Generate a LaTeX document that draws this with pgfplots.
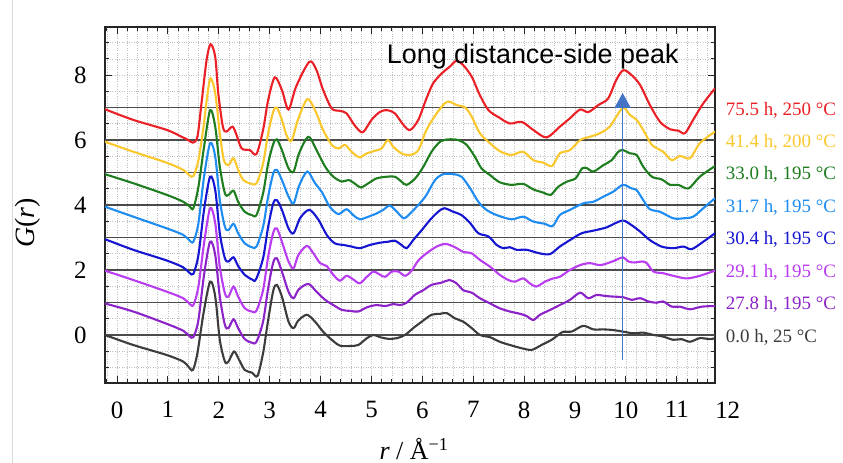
\documentclass[border=0pt]{standalone}
\usepackage{fontspec}
\setmainfont{Liberation Serif}
\newfontfamily\arialfont{Liberation Sans}
\usepackage{pgfplots}
\pgfplotsset{compat=1.18}
\usetikzlibrary{arrows.meta}
\definecolor{cRed}{RGB}{235,32,38}
\definecolor{cYel}{RGB}{250,200,45}
\definecolor{cGrn}{RGB}{30,125,30}
\definecolor{cLbl}{RGB}{30,140,240}
\definecolor{cBlu}{RGB}{22,22,210}
\definecolor{cMag}{RGB}{185,60,240}
\definecolor{cPur}{RGB}{140,35,200}
\definecolor{cGry}{RGB}{60,60,60}
\definecolor{cArr}{RGB}{68,114,196}

\pgfplotstableread{
x y
-0.24 6.95
0.32 6.62
0.98 6.31
1.27 6.10
1.40 6.00
1.49 5.92
1.58 6.10
1.66 7.13
1.76 8.46
1.84 8.95
1.93 8.56
1.99 7.44
2.08 6.41
2.15 6.26
2.27 6.41
2.35 6.15
2.45 5.74
2.61 5.69
2.74 5.57
2.87 6.31
2.97 7.23
3.10 7.93
3.24 7.54
3.37 6.94
3.52 7.65
3.78 8.41
3.92 8.15
4.05 7.54
4.22 6.97
4.38 6.90
4.51 6.82
4.68 6.43
4.83 6.24
5.00 6.62
5.17 6.87
5.31 6.92
5.46 6.82
5.63 6.46
5.76 6.31
5.92 6.62
6.08 7.28
6.21 7.74
6.38 8.05
6.54 8.26
6.67 8.44
6.80 8.31
6.97 7.95
7.13 7.38
7.30 6.92
7.50 6.70
7.72 6.51
7.95 6.56
8.18 6.31
8.44 6.08
8.70 6.41
8.90 6.67
9.10 6.94
9.26 6.86
9.46 7.08
9.65 7.28
9.81 7.85
9.95 8.15
10.11 8.00
10.28 7.69
10.47 7.08
10.67 6.56
10.87 6.33
11.03 6.29
11.16 6.21
11.32 6.62
11.52 7.13
11.75 7.59
}\tRed

\pgfplotstableread{
x y
-0.24 5.95
0.32 5.64
0.98 5.30
1.30 5.08
1.42 4.92
1.50 4.89
1.60 5.38
1.70 6.41
1.78 7.44
1.84 7.90
1.93 7.44
2.02 6.21
2.10 5.38
2.19 5.23
2.29 5.44
2.38 5.08
2.48 4.77
2.61 4.67
2.74 4.67
2.87 5.28
2.97 6.21
3.07 6.87
3.14 7.00
3.24 6.62
3.33 6.15
3.43 5.98
3.56 6.65
3.74 7.26
3.89 6.92
4.05 6.31
4.22 5.85
4.35 5.74
4.48 5.85
4.61 5.64
4.76 5.47
4.91 5.59
5.07 5.67
5.20 5.74
5.32 6.00
5.43 5.79
5.59 5.59
5.76 5.54
5.92 5.69
6.08 6.31
6.28 6.82
6.44 7.13
6.53 7.18
6.67 7.08
6.84 7.00
6.97 6.72
7.13 6.21
7.33 5.90
7.53 5.65
7.75 5.54
7.98 5.64
8.18 5.38
8.38 5.30
8.55 5.20
8.70 5.59
8.90 5.69
9.10 6.00
9.29 6.10
9.49 6.21
9.68 6.41
9.81 6.72
9.95 7.00
10.08 6.77
10.21 6.62
10.34 6.31
10.51 5.85
10.73 5.64
10.90 5.38
11.06 5.51
11.26 5.44
11.45 5.90
11.75 6.26
}\tYel

\pgfplotstableread{
x y
-0.24 4.95
0.32 4.67
0.98 4.31
1.30 4.10
1.43 3.95
1.50 3.90
1.60 4.56
1.71 5.79
1.83 6.92
1.93 6.41
2.02 5.18
2.12 4.36
2.19 4.31
2.29 4.44
2.38 4.10
2.51 3.79
2.65 3.69
2.74 3.69
2.87 4.36
2.97 5.28
3.07 5.88
3.14 6.02
3.24 5.69
3.37 5.13
3.47 5.03
3.58 5.60
3.76 6.10
3.92 5.69
4.09 5.18
4.25 4.87
4.42 4.72
4.55 4.77
4.68 4.65
4.79 4.54
4.94 4.67
5.10 4.82
5.30 4.87
5.46 4.87
5.59 4.72
5.69 4.62
5.86 4.82
6.02 5.18
6.18 5.64
6.35 5.95
6.51 6.02
6.70 6.00
6.87 5.85
7.03 5.49
7.16 5.13
7.33 4.92
7.52 4.70
7.75 4.62
7.98 4.65
8.18 4.48
8.38 4.38
8.52 4.31
8.67 4.56
8.84 4.72
9.01 4.82
9.14 5.13
9.24 5.13
9.36 5.03
9.56 5.23
9.72 5.38
9.85 5.64
9.94 5.69
10.08 5.59
10.21 5.54
10.34 5.18
10.51 4.87
10.70 4.79
10.87 4.62
11.03 4.62
11.23 4.51
11.45 4.87
11.75 5.20
}\tGrn

\pgfplotstableread{
x y
-0.24 3.95
0.32 3.64
0.98 3.28
1.30 3.08
1.42 2.92
1.50 2.87
1.60 3.44
1.71 4.87
1.83 5.90
1.93 5.49
2.02 4.15
2.12 3.33
2.19 3.23
2.29 3.42
2.38 3.13
2.51 2.82
2.65 2.70
2.74 2.72
2.87 3.33
2.97 4.26
3.07 4.97
3.14 5.08
3.24 4.77
3.37 4.26
3.47 4.05
3.58 4.60
3.74 5.03
3.89 4.67
4.02 4.41
4.18 3.95
4.35 3.72
4.51 3.87
4.64 3.69
4.77 3.56
4.94 3.64
5.10 3.74
5.23 3.85
5.36 3.98
5.50 3.79
5.64 3.59
5.79 3.79
5.95 4.05
6.08 4.31
6.25 4.77
6.41 4.95
6.61 4.95
6.77 4.87
6.94 4.51
7.10 4.10
7.26 3.85
7.46 3.69
7.75 3.56
7.98 3.64
8.18 3.49
8.41 3.42
8.56 3.35
8.70 3.69
8.90 3.85
9.16 4.05
9.36 4.10
9.56 4.26
9.75 4.41
9.94 4.62
10.11 4.51
10.21 4.46
10.34 4.15
10.47 3.87
10.67 3.79
10.93 3.59
11.13 3.59
11.32 3.64
11.52 3.90
11.75 4.21
}\tLbl

\pgfplotstableread{
x y
-0.24 2.95
0.32 2.62
0.98 2.29
1.30 2.08
1.42 1.92
1.50 1.88
1.60 2.46
1.71 3.85
1.83 4.87
1.93 4.46
2.02 3.13
2.12 2.36
2.19 2.26
2.29 2.39
2.38 2.12
2.51 1.85
2.65 1.71
2.73 1.71
2.87 2.36
2.97 3.33
3.07 4.05
3.14 4.15
3.24 3.85
3.37 3.28
3.47 3.13
3.60 3.60
3.78 3.85
3.96 3.54
4.12 3.08
4.28 2.82
4.45 2.77
4.61 2.72
4.77 2.67
4.97 2.77
5.17 2.84
5.33 2.87
5.46 2.90
5.59 2.77
5.69 2.67
5.82 2.92
5.99 3.23
6.15 3.54
6.31 3.79
6.43 3.90
6.61 3.79
6.77 3.69
6.94 3.44
7.10 3.13
7.30 3.03
7.46 2.77
7.59 2.67
7.72 2.70
7.85 2.62
8.05 2.62
8.31 2.51
8.51 2.49
8.70 2.72
8.90 2.92
9.13 3.13
9.36 3.21
9.62 3.31
9.79 3.44
9.95 3.52
10.11 3.38
10.28 3.18
10.47 2.92
10.70 2.72
10.93 2.67
11.13 2.72
11.29 2.64
11.52 2.87
11.75 3.13
}\tBlu

\pgfplotstableread{
x y
-0.24 1.98
0.32 1.69
0.98 1.33
1.30 1.13
1.42 0.97
1.50 0.92
1.60 1.49
1.71 2.82
1.83 3.90
1.93 3.44
2.02 2.10
2.12 1.28
2.19 1.18
2.29 1.49
2.38 1.18
2.51 0.82
2.65 0.72
2.74 0.75
2.87 1.38
2.97 2.41
3.07 3.15
3.14 3.28
3.24 2.87
3.37 2.26
3.47 2.05
3.56 2.45
3.73 2.74
3.86 2.51
3.99 2.21
4.12 2.12
4.25 1.85
4.38 1.67
4.51 1.82
4.64 1.71
4.77 1.59
4.91 1.79
5.04 1.95
5.17 1.85
5.27 1.79
5.40 1.95
5.53 1.95
5.66 1.82
5.79 1.98
5.92 2.29
6.08 2.51
6.28 2.72
6.46 2.80
6.64 2.70
6.80 2.56
6.97 2.51
7.13 2.31
7.33 2.10
7.52 1.85
7.69 1.69
7.82 1.64
7.98 1.74
8.11 1.59
8.24 1.49
8.41 1.64
8.57 1.74
8.70 1.79
8.90 2.00
9.10 2.15
9.29 2.21
9.49 2.15
9.68 2.23
9.81 2.31
9.94 2.39
10.05 2.26
10.17 2.23
10.31 2.26
10.41 2.21
10.54 1.95
10.73 1.90
10.93 1.82
11.19 1.74
11.45 1.82
11.75 1.98
}\tMag

\pgfplotstableread{
x y
-0.24 0.97
0.32 0.72
0.98 0.34
1.30 0.13
1.42 -0.03
1.50 -0.07
1.60 0.46
1.71 1.85
1.83 2.87
1.93 2.46
2.02 1.18
2.12 0.31
2.19 0.21
2.29 0.48
2.38 0.21
2.51 -0.13
2.65 -0.24
2.74 -0.21
2.87 0.41
2.97 1.44
3.07 2.23
3.14 2.36
3.24 1.95
3.37 1.33
3.47 1.13
3.57 1.40
3.76 1.57
3.92 1.33
4.09 1.08
4.25 0.92
4.42 0.77
4.58 0.74
4.74 0.72
4.91 0.85
5.10 0.92
5.27 0.89
5.43 0.95
5.56 0.92
5.69 0.99
5.85 1.23
6.02 1.38
6.18 1.54
6.38 1.61
6.53 1.69
6.67 1.59
6.80 1.38
6.97 1.30
7.13 1.13
7.33 0.97
7.52 0.82
7.72 0.72
7.92 0.65
8.05 0.58
8.18 0.46
8.31 0.62
8.51 0.77
8.70 0.92
8.90 1.08
9.10 1.30
9.26 1.13
9.42 1.23
9.59 1.20
9.75 1.18
9.95 1.16
10.11 1.08
10.28 1.13
10.44 1.03
10.60 0.99
10.73 1.03
10.90 0.87
11.06 0.87
11.26 0.79
11.49 0.87
11.75 0.89
}\tPur

\pgfplotstableread{
x y
-0.24 0.00
0.32 -0.31
0.98 -0.62
1.30 -0.82
1.40 -0.97
1.49 -1.08
1.58 -0.56
1.70 0.67
1.83 1.64
1.93 1.18
2.02 -0.15
2.12 -0.82
2.19 -0.82
2.30 -0.51
2.40 -0.77
2.51 -1.08
2.65 -1.16
2.76 -1.26
2.87 -0.56
2.97 0.46
3.07 1.36
3.14 1.54
3.24 1.18
3.37 0.41
3.47 0.21
3.56 0.44
3.73 0.62
3.89 0.41
4.05 0.10
4.22 -0.15
4.38 -0.33
4.58 -0.34
4.74 -0.31
4.91 -0.10
5.04 0.00
5.17 -0.07
5.33 -0.12
5.50 -0.10
5.66 0.00
5.82 0.21
5.99 0.41
6.18 0.62
6.35 0.65
6.48 0.67
6.64 0.51
6.80 0.41
6.97 0.21
7.13 0.00
7.33 -0.07
7.52 -0.21
7.72 -0.31
7.95 -0.41
8.15 -0.46
8.34 -0.31
8.54 -0.15
8.67 0.00
8.77 0.10
8.93 0.10
9.16 0.28
9.36 0.17
9.56 0.17
9.75 0.15
9.95 0.10
10.14 0.05
10.34 0.07
10.54 0.00
10.73 -0.05
10.93 -0.15
11.09 -0.13
11.26 -0.21
11.45 -0.10
11.65 -0.13
11.75 -0.10
}\tGry

\begin{document}
\begin{tikzpicture}
\path[use as bounding box] (0,0) rectangle (843bp,463bp);
\draw[black!15, line width=0.8bp] (12bp,0) -- (12bp,463bp);
\begin{axis}[
  at={(105bp,80bp)}, anchor=south west,
  scale only axis, width=610bp, height=356bp,
  xmin=-0.236, xmax=11.75, ymin=-1.48, ymax=9.48,
  xtick={0,...,11},
  minor xtick={-0.2,0.2,0.4,0.6,0.8,1.2,1.4,1.6,1.8,2.2,2.4,2.6,2.8,3.2,3.4,3.6,3.8,4.2,4.4,4.6,4.8,5.2,5.4,5.6,5.8,6.2,6.4,6.6,6.8,7.2,7.4,7.6,7.8,8.2,8.4,8.6,8.8,9.2,9.4,9.6,9.8,10.2,10.4,10.6,10.8,11.2,11.4,11.6},
  ytick={0,2,4,6,8},
  minor ytick={-1,-0.5,0.5,1,1.5,2.5,3,3.5,4.5,5,5.5,6.5,7,7.5,8.5,9},
  grid=both,
  major grid style={dotted, black!25, line width=0.6bp},
  minor grid style={dotted, black!25, line width=0.6bp},
  tick align=inside,
  major tick length=7bp, minor tick length=4bp,
  every tick/.style={black!85, line width=0.9bp},
  axis line style={line width=1.5bp, black!85},
  tick label style={font=\fontsize{25}{30}\selectfont},
  /pgf/number format/assume math mode=true,
  xticklabel style={yshift=-15bp},
  yticklabel style={xshift=-15bp},
  clip mode=individual,
]
\addplot[black!70, line width=1.3bp] coordinates {(-0.236,0) (11.75,0)};
\addplot[black!70, line width=1.3bp] coordinates {(-0.236,1) (11.75,1)};
\addplot[black!70, line width=1.3bp] coordinates {(-0.236,2) (11.75,2)};
\addplot[black!70, line width=1.3bp] coordinates {(-0.236,3) (11.75,3)};
\addplot[black!70, line width=1.3bp] coordinates {(-0.236,4) (11.75,4)};
\addplot[black!70, line width=1.3bp] coordinates {(-0.236,5) (11.75,5)};
\addplot[black!70, line width=1.3bp] coordinates {(-0.236,6) (11.75,6)};
\addplot[black!70, line width=1.3bp] coordinates {(-0.236,7) (11.75,7)};

\addplot[cGry, line width=2.1bp, smooth, tension=0.5] table {\tGry};
\addplot[cPur, line width=2.1bp, smooth, tension=0.5] table {\tPur};
\addplot[cMag, line width=2.1bp, smooth, tension=0.5] table {\tMag};
\addplot[cBlu, line width=2.1bp, smooth, tension=0.5] table {\tBlu};
\addplot[cLbl, line width=2.1bp, smooth, tension=0.5] table {\tLbl};
\addplot[cGrn, line width=2.1bp, smooth, tension=0.5] table {\tGrn};
\addplot[cYel, line width=2.1bp, smooth, tension=0.5] table {\tYel};
\addplot[cRed, line width=2.1bp, smooth, tension=0.5] table {\tRed};

\draw[cArr, line width=1.4bp, -{Triangle[width=16bp,length=15bp]}] (axis cs:9.935,-0.77) -- (axis cs:9.935,7.45);

\node[anchor=base west, font=\arialfont\fontsize{27}{30}\selectfont, inner sep=0pt] at (axis cs:5.30,8.37) {Long distance-side peak};

\node[anchor=north, font=\fontsize{25}{30}\selectfont, yshift=-15bp] at (axis cs:12,-1.48) {12};

\begin{scope}[every node/.style={anchor=base west, inner sep=0pt, font=\fontsize{19}{22}\selectfont}]
\node[text=cRed] at (axis cs:11.96,6.77) {75.5 h, 250 °C};
\node[text=cYel] at (axis cs:11.96,5.77) {41.4 h, 200 °C};
\node[text=cGrn] at (axis cs:11.96,4.77) {33.0 h, 195 °C};
\node[text=cLbl] at (axis cs:11.96,3.77) {31.7 h, 195 °C};
\node[text=cBlu] at (axis cs:11.96,2.77) {30.4 h, 195 °C};
\node[text=cMag] at (axis cs:11.96,1.77) {29.1 h, 195 °C};
\node[text=cPur] at (axis cs:11.96,0.77) {27.8 h, 195 °C};
\node[text=cGry] at (axis cs:11.96,-0.23) {0.0 h, 25 °C};
\end{scope}
\end{axis}
\node[rotate=90, font=\fontsize{28}{32}\selectfont] at (28bp,240bp) {\textit{G}(\textit{r})};
\node[anchor=base, font=\fontsize{26}{30}\selectfont, inner sep=0pt] at (414bp,4bp) {\textit{r} / Å\textsuperscript{−1}};
\end{tikzpicture}
\end{document}
